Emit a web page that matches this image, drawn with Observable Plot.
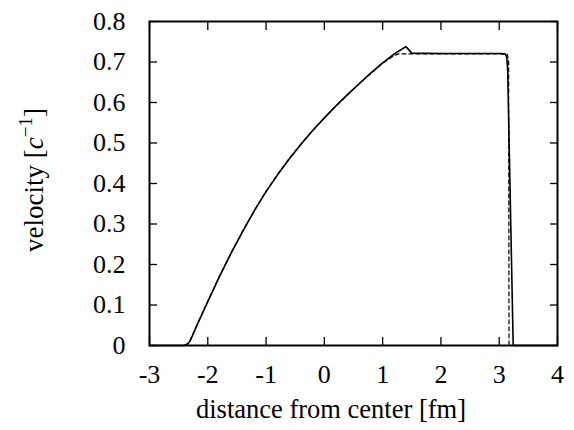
<!DOCTYPE html>
<html>
<head>
<meta charset="utf-8">
<script src="https://cdn.jsdelivr.net/npm/d3@7"></script>
<script src="https://cdn.jsdelivr.net/npm/@observablehq/plot@0.6"></script>
<style>
  html, body { margin: 0; padding: 0; background: #fff; }
  #chart svg { display: block; }
  #chart svg text, #chart svg tspan { font-family: "Liberation Serif" !important; }
</style>
</head>
<body>
<div id="chart"></div>
<script>
// Solid curve
const solidX = [-3, -2.4, -2.35, -2.3, -2.2, -2.0, -1.8, -1.6, -1.4, -1.2, -1.0, -0.8, -0.6, -0.4, -0.2, 0, 0.2, 0.4, 0.6, 0.8, 1.0, 1.2, 1.3, 1.40, 1.50, 2.0, 2.5, 3.0, 3.1, 3.13, 3.145, 3.24, 4];
const solidY = [0, 0, 0.003, 0.012, 0.045, 0.108, 0.170, 0.228, 0.282, 0.333, 0.380, 0.422, 0.461, 0.497, 0.531, 0.562, 0.592, 0.620, 0.647, 0.673, 0.698, 0.720, 0.729, 0.738, 0.722, 0.721, 0.721, 0.721, 0.720, 0.712, 0.680, 0, 0];
// Dashed curve
const dashX = [-3, -2.4, -2.35, -2.3, -2.2, -2.0, -1.8, -1.6, -1.4, -1.2, -1.0, -0.8, -0.6, -0.4, -0.2, 0, 0.2, 0.4, 0.6, 0.8, 1.0, 1.2, 1.27, 2.0, 2.5, 3.0, 3.14, 3.162, 3.168, 4];
const dashY = [0, 0, 0.004, 0.014, 0.047, 0.110, 0.171, 0.229, 0.283, 0.334, 0.381, 0.423, 0.462, 0.498, 0.531, 0.562, 0.591, 0.619, 0.646, 0.672, 0.697, 0.716, 0.720, 0.720, 0.720, 0.720, 0.719, 0.700, 0, 0];
// Ticks
const xTicks = [-3, -2, -1, 0, 1, 2, 3, 4];
const yTicks = [0, 0.1, 0.2, 0.3, 0.4, 0.5, 0.6, 0.7, 0.8];

const solid = solidX.map((x, i) => ({x, y: solidY[i]}));
const dashed = dashX.map((x, i) => ({x, y: dashY[i]}));

const font = "Liberation Serif";
const fs = 26;

const chart = Plot.plot({
  width: 574,
  height: 430,
  marginLeft: 149,
  marginRight: 17,
  marginTop: 21,
  marginBottom: 85,
  style: {fontFamily: font, fontSize: fs + "px", color: "black", background: "white"},
  x: {domain: [-3, 4]},
  y: {domain: [0, 0.8]},
  marks: [
    Plot.axisX({anchor: "bottom", ticks: xTicks, tickSize: -8, tickPadding: 27, tickFormat: d => String(d), label: null, fontSize: fs, strokeWidth: 1.3}),
    Plot.axisX({anchor: "top", ticks: xTicks, tickSize: -8, text: null, label: null, strokeWidth: 1.3}),
    Plot.axisY({anchor: "left", ticks: yTicks, tickSize: -8, tickPadding: 32, tickFormat: d => d === 0 ? "0" : d.toFixed(1), label: null, fontSize: fs, strokeWidth: 1.3}),
    Plot.axisY({anchor: "right", ticks: yTicks, tickSize: -8, text: null, label: null, strokeWidth: 1.3}),
    Plot.line(dashed, {x: "x", y: "y", stroke: "black", strokeWidth: 1.2, strokeDasharray: "4,3"}),
    Plot.line(solid, {x: "x", y: "y", stroke: "black", strokeWidth: 1.6}),
    Plot.frame({stroke: "black", strokeWidth: 2})
  ]
});

const svg = d3.select(chart);
svg.append("text")
  .attr("x", 331).attr("y", 418)
  .attr("text-anchor", "middle")
  .attr("font-size", 26.5)
  .text("distance from center [fm]");

const yl = svg.append("text")
  .attr("transform", "translate(43,180) rotate(-90)")
  .attr("text-anchor", "middle")
  .attr("font-size", 27);
yl.append("tspan").text("velocity [");
yl.append("tspan").attr("font-style", "italic").text("c");
yl.append("tspan").attr("dy", -11).attr("font-size", 19).text("−1");
yl.append("tspan").attr("dy", 11).text("]");

svg.attr("font-family", font);
svg.selectAll("g").attr("font-family", font);
svg.selectAll("text").attr("font-family", font).style("font-family", font);

document.getElementById("chart").appendChild(chart);
</script>
</body>
</html>
